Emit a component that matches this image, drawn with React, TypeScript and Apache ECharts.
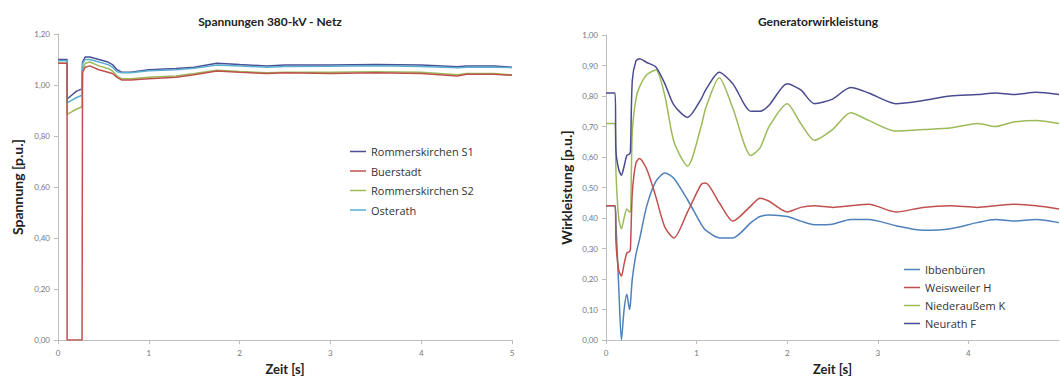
import React, { useEffect, useRef } from "react";
import * as echarts from "echarts";

// ---------- Left chart: Spannungen 380-kV - Netz ----------
const timeLeft = [0, 0.1, 0.1, 0.15, 0.2, 0.265, 0.27, 0.3, 0.35, 0.45, 0.55, 0.6, 0.65, 0.7, 0.8, 1.0, 1.3, 1.5, 1.75, 2.0, 2.3, 2.5, 3.0, 3.5, 4.0, 4.4, 4.5, 4.8, 5.0];
const rommerskirchenS1 = [1.1, 1.1, 0.945, 0.96, 0.975, 0.985, 1.09, 1.11, 1.11, 1.1, 1.09, 1.08, 1.06, 1.05, 1.05, 1.06, 1.065, 1.07, 1.085, 1.08, 1.075, 1.078, 1.078, 1.08, 1.078, 1.072, 1.075, 1.075, 1.07];
const buerstadt = [1.085, 1.085, 0, 0, 0, 0, 1.05, 1.07, 1.075, 1.06, 1.05, 1.045, 1.03, 1.02, 1.02, 1.025, 1.03, 1.04, 1.055, 1.05, 1.045, 1.048, 1.045, 1.048, 1.045, 1.035, 1.042, 1.042, 1.038];
const rommerskirchenS2 = [1.085, 1.085, 0.885, 0.895, 0.905, 0.915, 1.06, 1.085, 1.09, 1.075, 1.065, 1.055, 1.035, 1.025, 1.025, 1.03, 1.035, 1.045, 1.058, 1.053, 1.048, 1.05, 1.05, 1.052, 1.05, 1.04, 1.045, 1.045, 1.04];
const osterath = [1.095, 1.095, 0.93, 0.94, 0.95, 0.96, 1.085, 1.1, 1.1, 1.09, 1.08, 1.07, 1.052, 1.048, 1.048, 1.056, 1.06, 1.066, 1.078, 1.075, 1.07, 1.073, 1.074, 1.076, 1.073, 1.068, 1.07, 1.07, 1.068];
const leftNames = ["Rommerskirchen S1", "Buerstadt", "Rommerskirchen S2", "Osterath"];
const leftColors = ["#4a4f96", "#c0504d", "#9bbb59", "#5aaed0"];

// ---------- Right chart: Generatorwirkleistung ----------
const timeRight = [0, 0.1, 0.11, 0.14, 0.17, 0.2, 0.23, 0.26, 0.27, 0.29, 0.33, 0.37, 0.45, 0.55, 0.65, 0.75, 0.9, 1.05, 1.1, 1.25, 1.4, 1.6, 1.7, 1.8, 2.0, 2.15, 2.3, 2.5, 2.7, 2.9, 3.2, 3.5, 3.8, 4.1, 4.3, 4.5, 4.75, 5.0];
const ibbenbueren = [0.44, 0.44, 0.38, 0.18, 0.0, 0.1, 0.15, 0.1, 0.12, 0.2, 0.28, 0.33, 0.44, 0.52, 0.548, 0.53, 0.46, 0.38, 0.36, 0.335, 0.335, 0.385, 0.405, 0.41, 0.405, 0.39, 0.378, 0.38, 0.395, 0.395, 0.375, 0.36, 0.365, 0.385, 0.395, 0.39, 0.395, 0.385];
const weisweilerH = [0.44, 0.44, 0.32, 0.23, 0.21, 0.25, 0.285, 0.29, 0.3, 0.48, 0.58, 0.595, 0.56, 0.47, 0.37, 0.335, 0.42, 0.51, 0.515, 0.45, 0.39, 0.44, 0.465, 0.455, 0.42, 0.435, 0.44, 0.435, 0.44, 0.445, 0.42, 0.435, 0.44, 0.435, 0.44, 0.445, 0.44, 0.43];
const niederaussemK = [0.71, 0.71, 0.55, 0.4, 0.365, 0.4, 0.43, 0.42, 0.42, 0.68, 0.79, 0.83, 0.87, 0.885, 0.8, 0.65, 0.57, 0.7, 0.76, 0.86, 0.76, 0.605, 0.63, 0.7, 0.775, 0.71, 0.655, 0.69, 0.745, 0.72, 0.685, 0.69, 0.695, 0.71, 0.7, 0.715, 0.72, 0.71];
const neurathF = [0.81, 0.81, 0.62, 0.56, 0.54, 0.57, 0.605, 0.61, 0.62, 0.85, 0.915, 0.922, 0.91, 0.895, 0.84, 0.77, 0.73, 0.79, 0.82, 0.878, 0.84, 0.75, 0.75, 0.77, 0.84, 0.82, 0.775, 0.79, 0.828, 0.81, 0.775, 0.785, 0.8, 0.805, 0.81, 0.805, 0.812, 0.805];
const rightNames = ["Ibbenbüren", "Weisweiler H", "Niederaußem K", "Neurath F"];
const rightColors = ["#4f81bd", "#c0504d", "#9bbb59", "#4b4b8f"];

const FONT = "Lato";
const LEGEND_FONT = "Open Sans";

const pairs = (t: number[], v: number[]) => t.map((x, i) => [x, v[i]]);
const fmt = (v: number) => v.toFixed(2).replace(".", ",");

export default function App() {
  const ref = useRef<HTMLDivElement>(null);
  useEffect(() => {
    if (!ref.current) return;
    const chart = echarts.init(ref.current, undefined, { renderer: "svg" });

    const xAxisBase = (gridIndex: number, hideMax: boolean) => ({
      type: "value",
      gridIndex,
      min: 0,
      max: 5,
      interval: 1,
      name: "Zeit [s]",
      nameLocation: "middle",
      nameGap: 19,
      nameTextStyle: { fontFamily: FONT, fontWeight: "bold", fontSize: 13, color: "#222" },
      axisLine: { show: true, lineStyle: { color: "#bdbdbd", width: 1 } },
      axisTick: { show: true, length: 4, lineStyle: { color: "#bdbdbd" } },
      axisLabel: { fontFamily: FONT, fontSize: 8, color: "#777", margin: 9, showMaxLabel: !hideMax },
      splitLine: { show: false },
    });
    const yAxisBase = (gridIndex: number, max: number, interval: number, name: string, gap: number) => ({
      type: "value",
      gridIndex,
      min: 0,
      max,
      interval,
      name,
      nameLocation: "middle",
      nameRotate: 90,
      nameGap: gap,
      nameTextStyle: { fontFamily: FONT, fontWeight: "bold", fontSize: 14, color: "#222" },
      axisLine: { show: true, lineStyle: { color: "#bdbdbd", width: 1 } },
      axisTick: { show: true, length: 4, lineStyle: { color: "#bdbdbd" } },
      axisLabel: { fontFamily: FONT, fontSize: 8, color: "#777", margin: 8, formatter: fmt },
      splitLine: { show: false },
    });

    const leftData = [rommerskirchenS1, buerstadt, rommerskirchenS2, osterath];
    const rightData = [ibbenbueren, weisweilerH, niederaussemK, neurathF];

    const series: any[] = [];
    leftData.forEach((vals, i) => {
      series.push({
        type: "line",
        name: leftNames[i],
        xAxisIndex: 0,
        yAxisIndex: 0,
        data: pairs(timeLeft, vals),
        showSymbol: false,
        lineStyle: { width: 1.5, color: leftColors[i] },
        itemStyle: { color: leftColors[i] },
        z: i === 1 ? 3 : 2,
      });
    });
    rightData.forEach((vals, i) => {
      series.push({
        type: "line",
        name: rightNames[i],
        xAxisIndex: 1,
        yAxisIndex: 1,
        data: pairs(timeRight, vals),
        showSymbol: false,
        smooth: 0.25,
        lineStyle: { width: 1.5, color: rightColors[i] },
        itemStyle: { color: rightColors[i] },
        z: i === 1 ? 3 : 2,
      });
    });

    const legendBase = {
      orient: "vertical",
      icon: "rect",
      itemWidth: 16,
      itemHeight: 1.5,
      textStyle: { fontFamily: LEGEND_FONT, fontSize: 11, color: "#333", lineHeight: 13 },
    };

    chart.setOption({
      animation: false,
      backgroundColor: "#ffffff",
      title: [
        {
          text: "Spannungen 380-kV - Netz",
          left: 265,
          top: 10,
          textAlign: "center",
          textStyle: { fontFamily: FONT, fontWeight: "bold", fontSize: 12, color: "#222" },
        },
        {
          text: "Generatorwirkleistung",
          left: 813,
          top: 10,
          textAlign: "center",
          textStyle: { fontFamily: FONT, fontWeight: "bold", fontSize: 12, color: "#222" },
        },
      ],
      grid: [
        { left: 58, top: 34, width: 454, height: 320, containLabel: false },
        { left: 606, top: 35, width: 453, height: 320, containLabel: false },
      ],
      xAxis: [xAxisBase(0, false), xAxisBase(1, true)],
      yAxis: [
        yAxisBase(0, 1.2, 0.2, "Spannung [p.u.]", 34),
        yAxisBase(1, 1.0, 0.1, "Wirkleistung [p.u.]", 33),
      ],
      legend: [
        { ...legendBase, itemGap: 6.5, data: leftNames, left: 345, top: 140 },
        { ...legendBase, itemGap: 5, data: rightNames, left: 899, top: 258 },
      ],
      series,
    });

    return () => chart.dispose();
  }, []);

  return (
    <div
      ref={ref}
      style={{ position: "absolute", left: 0, top: 0, width: 1060, height: 380 }}
    />
  );
}
